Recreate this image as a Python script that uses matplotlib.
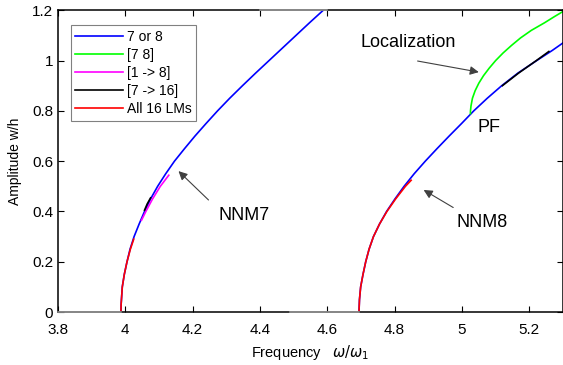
import matplotlib
matplotlib.use("Agg")
import matplotlib.pyplot as plt

plt.rcParams["font.family"] = ["Liberation Sans", "DejaVu Sans"]
plt.rcParams["mathtext.fontset"] = "dejavusans"

# backbone of NNM7 (amplitude, frequency)
nnm7_amp = [0.0, 0.03, 0.06, 0.10, 0.15, 0.20, 0.25, 0.30, 0.35, 0.40, 0.45, 0.50, 0.55,
            0.60, 0.65, 0.70, 0.75, 0.80, 0.85, 0.90, 0.95, 1.00, 1.05, 1.10, 1.15, 1.20]
nnm7_freq = [3.987, 3.9875, 3.989, 3.991, 3.997, 4.005, 4.014, 4.026, 4.041, 4.057, 4.075,
             4.096, 4.120, 4.146, 4.176, 4.207, 4.240, 4.274, 4.310, 4.348, 4.387, 4.427,
             4.467, 4.507, 4.547, 4.588]

# backbone of NNM8
nnm8_amp = [0.0, 0.05, 0.10, 0.15, 0.20, 0.25, 0.30, 0.35, 0.40, 0.45, 0.50, 0.55, 0.60,
            0.65, 0.70, 0.75, 0.80, 0.85, 0.90, 0.95, 1.00, 1.04, 1.07]
nnm8_freq = [4.694, 4.6955, 4.699, 4.706, 4.714, 4.724, 4.737, 4.755, 4.776, 4.801, 4.828,
             4.858, 4.891, 4.926, 4.962, 4.999, 5.035, 5.075, 5.118, 5.166, 5.222, 5.268,
             5.300]

# localized branch [7 8] from the pitchfork
loc_amp = [0.789, 0.80, 0.82, 0.85, 0.88, 0.91, 0.94, 0.97, 1.00, 1.03, 1.06, 1.09, 1.12,
           1.15, 1.175, 1.195]
loc_freq = [5.025, 5.0252, 5.0268, 5.031, 5.039, 5.050, 5.064, 5.081, 5.100, 5.122, 5.147,
            5.174, 5.206, 5.245, 5.275, 5.300]

# [1 -> 8] branch (near NNM7)
mag_amp = [0.365, 0.40, 0.45, 0.50, 0.544]
mag_freq = [4.048, 4.061, 4.081, 4.104, 4.129]

# [7 -> 16] branches
blk7_amp = [0.405, 0.43, 0.454]
blk7_freq = [4.057, 4.065, 4.075]
blk8_amp = [0.90, 0.95, 1.00, 1.036]
blk8_freq = [5.120, 5.168, 5.221, 5.258]

# all 16 LMs
red7_amp = [0.0, 0.03, 0.06, 0.10, 0.15, 0.20, 0.25, 0.29]
red7_freq = [3.987, 3.9875, 3.989, 3.991, 3.997, 4.005, 4.015, 4.025]
red8_amp = [0.0, 0.05, 0.10, 0.15, 0.20, 0.25, 0.30, 0.35, 0.40, 0.45, 0.50, 0.524]
red8_freq = [4.694, 4.6955, 4.699, 4.706, 4.714, 4.724, 4.737, 4.755, 4.777, 4.803, 4.832,
             4.849]

xticks = [3.8, 4.0, 4.2, 4.4, 4.6, 4.8, 5.0, 5.2]
xtick_labels = ["3.8", "4", "4.2", "4.4", "4.6", "4.8", "5", "5.2"]
yticks = [0, 0.2, 0.4, 0.6, 0.8, 1.0, 1.2]
ytick_labels = ["0", "0.2", "0.4", "0.6", "0.8", "1", "1.2"]

fig = plt.figure(figsize=(5.63, 3.65), dpi=100)
ax = fig.add_axes([0.103, 0.145, 0.897, 0.827])

lw = 1.2
ax.plot(nnm7_freq, nnm7_amp, color="#0000ff", lw=lw, label="7 or 8")
ax.plot(nnm8_freq, nnm8_amp, color="#0000ff", lw=lw)
ax.plot(loc_freq, loc_amp, color="#00ff00", lw=lw, label="[7 8]")
ax.plot(mag_freq, mag_amp, color="#ff00ff", lw=lw, label="[1 -> 8]")
ax.plot(blk7_freq, blk7_amp, color="black", lw=lw, label="[7 -> 16]")
ax.plot(blk8_freq, blk8_amp, color="black", lw=lw)
ax.plot(red7_freq, red7_amp, color="#ff0000", lw=lw, label="All 16 LMs")
ax.plot(red8_freq, red8_amp, color="#ff0000", lw=lw)

# grey trivial branches lying on the axes
for x0, x1, y in [(3.8, 3.987, 0.0), (4.49, 4.694, 0.0), (4.40, 4.60, 1.2)]:
    ax.plot([x0, x1], [y, y], color="#a0a0a0", lw=1.1, clip_on=False, zorder=3)

ax.set_xlim(3.8, 5.3)
ax.set_ylim(0, 1.2)
ax.set_xticks(xticks)
ax.set_xticklabels(xtick_labels)
ax.set_yticks(yticks)
ax.set_yticklabels(ytick_labels)
ax.tick_params(direction="in", top=True, right=True, length=4, width=0.8, labelsize=11)
ax.tick_params(axis="x", pad=8)
for s in ax.spines.values():
    s.set_linewidth(1.1)

ax.set_xlabel(r"Frequency   $\omega/\omega_1$", fontsize=10.5, labelpad=4.5)
ax.set_ylabel("Amplitude w/h", fontsize=10, labelpad=7)

leg = ax.legend(loc="upper left", bbox_to_anchor=(0.025, 0.95), borderaxespad=0,
                fontsize=10, fancybox=False, framealpha=1, edgecolor="#808080",
                handlelength=3.4, handletextpad=0.3, labelspacing=0.28, borderpad=0.35)
leg.get_frame().set_linewidth(0.8)

arrow = dict(arrowstyle="-|>", color="#404040", lw=0.8, mutation_scale=13)
ax.annotate("", xy=(4.152, 0.568), xytext=(4.253, 0.438), arrowprops=arrow)
ax.text(4.352, 0.385, "NNM7", fontsize=13, ha="center", va="center")
ax.annotate("", xy=(4.879, 0.491), xytext=(4.981, 0.41), arrowprops=arrow)
ax.text(5.061, 0.356, "NNM8", fontsize=13, ha="center", va="center")
ax.annotate("", xy=(5.058, 0.952), xytext=(4.86, 1.0), arrowprops=arrow)
ax.text(4.839, 1.073, "Localization", fontsize=13, ha="center", va="center")
ax.text(5.079, 0.735, "PF", fontsize=13, ha="center", va="center")

fig.savefig("out.png", dpi=100)
